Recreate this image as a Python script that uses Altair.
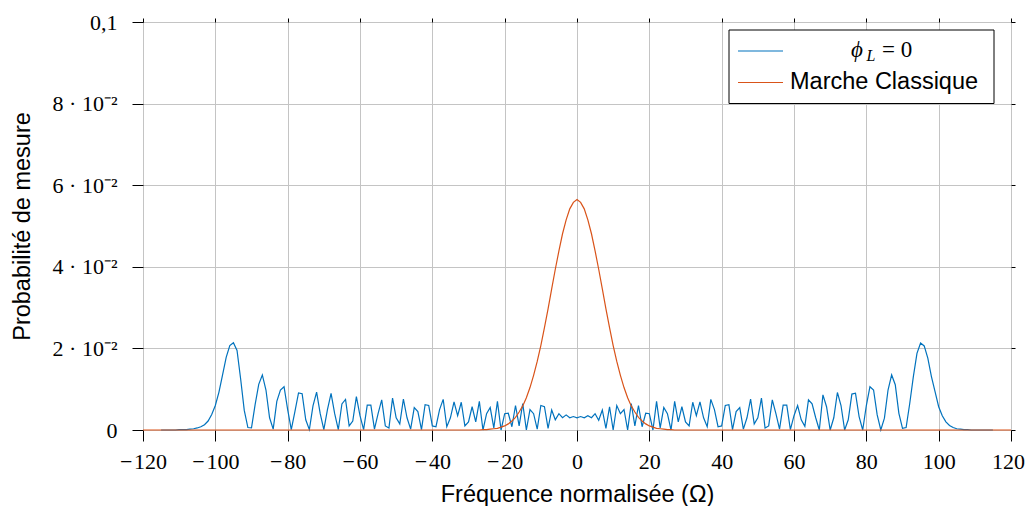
import altair as alt
import pandas as pd

# ---- data ----
x_quant = list(range(-115, 116))
p_quant = [
    # -115 .. -104
    0.0, 0.0, 0.0, 0.0, 0.0, 0.0001, 0.0001, 0.0001, 0.0002, 0.0003, 0.0005, 0.0008,
    # -103 .. -60
    0.0013, 0.0022, 0.0038, 0.0060, 0.0093, 0.0135, 0.0178, 0.0207, 0.0214, 0.0195,
    0.0125, 0.0048, 0.0006, 0.0005, 0.0062, 0.0112, 0.0135, 0.0098, 0.0030, 0.0002,
    0.0070, 0.0098, 0.0106, 0.0050, 0.0001, 0.0045, 0.0091, 0.0089, 0.0025, 0.0001,
    0.0059, 0.0093, 0.0040, 0.0001, 0.0050, 0.0090, 0.0040, 0.0001, 0.0064, 0.0075,
    0.0010, 0.0022, 0.0082, 0.0035,
    # -59 .. -10
    0.0001, 0.0061, 0.0061, 0.0002, 0.0040, 0.0074, 0.0010, 0.0005, 0.0078, 0.0030,
    0.0015, 0.0076, 0.0030, 0.0002, 0.0055, 0.0045, 0.0001, 0.0062, 0.0060, 0.0010,
    0.0008, 0.0050, 0.0075, 0.0008, 0.0030, 0.0069, 0.0035, 0.0068, 0.0010, 0.0020,
    0.0057, 0.0020, 0.0070, 0.0000, 0.0040, 0.0055, 0.0005, 0.0070, 0.0000, 0.0040,
    0.0041, 0.0008, 0.0060, 0.0010, 0.0065, 0.0000, 0.0050, 0.0040, 0.0002, 0.0060,
    # -9 .. 11
    0.0057, 0.0004, 0.0049, 0.0025, 0.0040, 0.0030, 0.0037, 0.0030, 0.0033, 0.0030,
    0.0033, 0.0030, 0.0035, 0.0030, 0.0040, 0.0024, 0.0049, 0.0004, 0.0057, 0.0000,
    0.0060,
    # 12 .. 60
    0.0040, 0.0050, 0.0000, 0.0065, 0.0010, 0.0060, 0.0008, 0.0041, 0.0040, 0.0000,
    0.0070, 0.0005, 0.0055, 0.0040, 0.0000, 0.0070, 0.0020, 0.0057, 0.0020, 0.0010,
    0.0068, 0.0035, 0.0069, 0.0030, 0.0008, 0.0075, 0.0050, 0.0008, 0.0010, 0.0060,
    0.0062, 0.0001, 0.0045, 0.0055, 0.0002, 0.0030, 0.0076, 0.0015, 0.0030, 0.0078,
    0.0005, 0.0010, 0.0074, 0.0040, 0.0002, 0.0061, 0.0061, 0.0001, 0.0035,
    # 61 .. 103
    0.0060, 0.0025, 0.0009, 0.0074, 0.0064, 0.0030, 0.0000, 0.0086, 0.0057, 0.0000,
    0.0030, 0.0092, 0.0060, 0.0000, 0.0025, 0.0088, 0.0090, 0.0033, 0.0000, 0.0060,
    0.0106, 0.0098, 0.0037, 0.0000, 0.0029, 0.0098, 0.0135, 0.0111, 0.0041, 0.0004,
    0.0006, 0.0065, 0.0131, 0.0188, 0.0213, 0.0206, 0.0176, 0.0131, 0.0094, 0.0057,
    0.0035, 0.0020, 0.0011,
    # 104 .. 115
    0.0006, 0.0003, 0.0002, 0.0001, 0.0001, 0.0, 0.0, 0.0, 0.0, 0.0, 0.0, 0.0,
]

x_class = list(range(-120, 121))
p_class_core = [  # -26 .. 26
    0.0001, 0.0001, 0.0002, 0.0003, 0.0004, 0.0007, 0.0010, 0.0015, 0.0022, 0.0031,
    0.0044, 0.0059, 0.0079, 0.0104, 0.0134, 0.0168, 0.0207, 0.0251, 0.0297, 0.0346,
    0.0394, 0.0439, 0.0481, 0.0515, 0.0542, 0.0558, 0.0565, 0.0558, 0.0542, 0.0515,
    0.0481, 0.0439, 0.0394, 0.0346, 0.0297, 0.0251, 0.0207, 0.0168, 0.0134, 0.0104,
    0.0079, 0.0059, 0.0044, 0.0031, 0.0022, 0.0015, 0.0010, 0.0007, 0.0004, 0.0003,
    0.0002, 0.0001, 0.0001,
]
p_class = [0.0] * 94 + p_class_core + [0.0] * 94

x_ticks = [-120, -100, -80, -60, -40, -20, 0, 20, 40, 60, 80, 100, 120]
y_ticks = [0, 0.02, 0.04, 0.06, 0.08, 0.1]

series_names = ["Marche Classique"]
colors = {"quant": "#0072BD", "class": "#D95319"}

df_q = pd.DataFrame({"x": x_quant, "p": p_quant})
df_c = pd.DataFrame({"x": x_class, "p": p_class})

W, H = 868, 408
SERIF = "Liberation Serif"
SANS = "Liberation Sans"
SANS_SIZE = 23.5

xscale = alt.Scale(domain=[-120, 120], nice=False, zero=False)
yscale = alt.Scale(domain=[0, 0.1], nice=False)

ylabel_expr = ("datum.value == 0 ? '0' : (abs(datum.value - 0.1) < 1e-9 ? '0,1' : "
               "format(round(datum.value * 100), 'd') + ' · 10⁻²')")
xlabel_expr = ("datum.value < 0 ? '\u2212\u200a' + format(abs(datum.value), 'd') : "
               "format(datum.value, 'd')")

x_axis_bottom = alt.Axis(
    values=x_ticks, title="Fréquence normalisée (Ω)", orient="bottom",
    grid=True, labelPadding=10, labelFlush=False, labelOverlap=False,
    labelExpr=xlabel_expr, tickSize=11,
    labelAlign={"condition": {"test": "datum.value >= 120", "value": "right"}, "value": "center"},
    labelOffset={"condition": {"test": "datum.value >= 120", "value": 13.5}, "value": 0},
    titleX=W / 2, titleY=71, titleBaseline="alphabetic", titleAlign="center")
y_axis_left = alt.Axis(values=y_ticks, title="Probabilité de mesure", orient="left",
                       grid=True, labelExpr=ylabel_expr, labelPadding=15, tickSize=11,
                       labelFlush=False, labelOverlap=False,
                       titleX=-121, titleY=H / 2, titleBaseline="middle",
                       titleAlign="center", titleAngle=270)

blue = alt.Chart(df_q).mark_line(color=colors["quant"], strokeWidth=1.2).encode(
    x=alt.X("x:Q", scale=xscale, axis=x_axis_bottom),
    y=alt.Y("p:Q", scale=yscale, axis=y_axis_left),
)

orange = alt.Chart(df_c).mark_line(color=colors["class"], strokeWidth=1.2).encode(
    x=alt.X("x:Q", scale=xscale,
            axis=alt.Axis(values=x_ticks, orient="top", labels=False, title=None,
                          grid=False, tickSize=4)),
    y=alt.Y("p:Q", scale=yscale,
            axis=alt.Axis(values=y_ticks, orient="right", labels=False, title=None,
                          grid=False, tickSize=4)),
)

one = alt.Data(values=[{"k": 1}])
box = alt.Chart(one).mark_rect(fill="white", stroke="black", strokeWidth=1).encode(
    x=alt.value(586), x2=alt.value(851), y=alt.value(8), y2=alt.value(81.5))
leg_b = alt.Chart(one).mark_rule(color=colors["quant"], strokeWidth=1.2).encode(
    x=alt.value(595), x2=alt.value(640), y=alt.value(29))
leg_o = alt.Chart(one).mark_rule(color=colors["class"], strokeWidth=1.2).encode(
    x=alt.value(595), x2=alt.value(640), y=alt.value(60.5))
t_phi = alt.Chart(one).mark_text(text="ϕ", font=SERIF, fontSize=23, fontStyle="italic",
                                 align="left", baseline="alphabetic", color="black").encode(
    x=alt.value(708), y=alt.value(35))
t_L = alt.Chart(one).mark_text(text="L", font=SERIF, fontSize=16, fontStyle="italic",
                               align="left", baseline="alphabetic", color="black").encode(
    x=alt.value(723.5), y=alt.value(38.5))
t_eq = alt.Chart(one).mark_text(text="= 0", font=SERIF, fontSize=23,
                                align="left", baseline="alphabetic", color="black").encode(
    x=alt.value(739), y=alt.value(35))
t_mc = alt.Chart(one).mark_text(text=series_names[0], font=SANS, fontSize=SANS_SIZE,
                                align="left", baseline="alphabetic", color="black").encode(
    x=alt.value(647), y=alt.value(66.5))

chart = alt.layer(blue, orange, box, leg_b, leg_o, t_phi, t_L, t_eq, t_mc).resolve_axis(
    x="independent", y="independent"
).properties(
    width=W, height=H,
    padding={"left": 135, "top": 14, "right": 14, "bottom": 76},
    autosize=alt.AutoSizeParams(type="none"),
    background="white",
).configure_view(
    stroke="black", strokeWidth=1
).configure_axis(
    domain=False, tickColor="black", tickWidth=1,
    labelFont=SERIF, labelFontSize=22, labelColor="black",
    titleFont=SANS, titleFontSize=SANS_SIZE, titleFontWeight="normal", titleColor="black",
    gridColor="#c4c4c4", gridWidth=1,
)

chart.save("out.html", embed_options={"renderer": "svg", "actions": False})
